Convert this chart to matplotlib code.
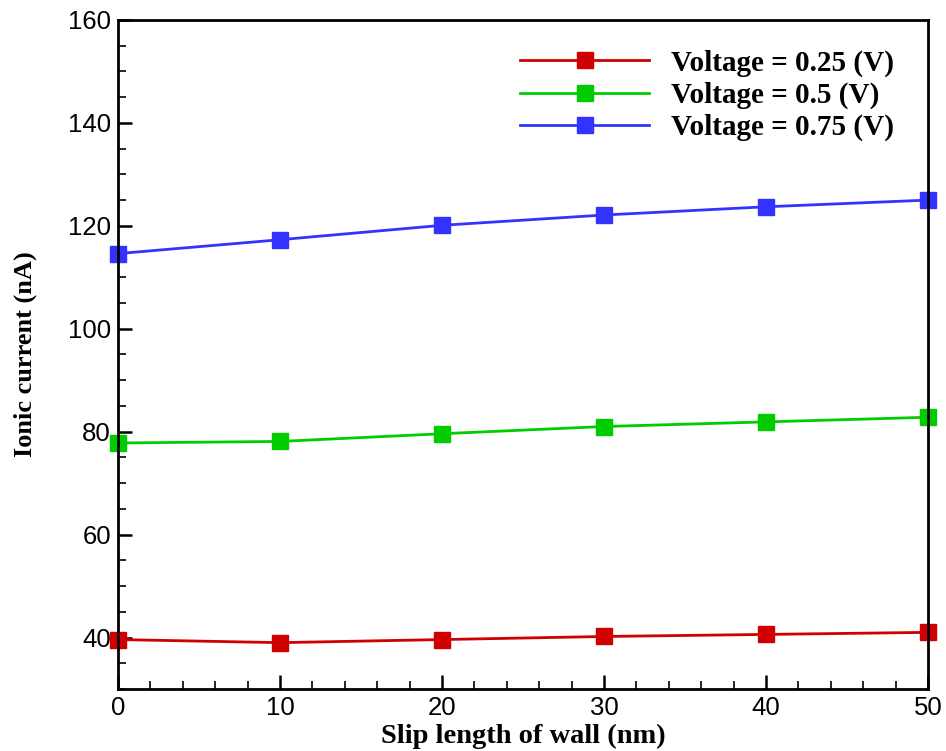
import matplotlib
matplotlib.use("Agg")
import matplotlib.pyplot as plt
from matplotlib.ticker import MultipleLocator

# Data
slip_length = [0, 10, 20, 30, 40, 50]
current_025 = [39.6, 39.0, 39.6, 40.2, 40.6, 41.0]
current_05 = [77.8, 78.1, 79.6, 81.0, 81.9, 82.8]
current_075 = [114.6, 117.3, 120.1, 122.1, 123.7, 125.0]
labels = ["Voltage = 0.25 (V)", "Voltage = 0.5 (V)", "Voltage = 0.75 (V)"]
colors = ["#d00000", "#00cc00", "#3333ff"]

fig = plt.figure(figsize=(9.46, 7.51), dpi=100)
ax = fig.add_axes([0.1247, 0.0826, 0.8563, 0.8908])

for y, lab, c in zip([current_025, current_05, current_075], labels, colors):
    ax.plot(slip_length, y, color=c, lw=2, marker="s", ms=12, label=lab, clip_on=False)

ax.set_xlim(0, 50)
ax.set_ylim(30, 160)
ax.xaxis.set_major_locator(MultipleLocator(10))
ax.xaxis.set_minor_locator(MultipleLocator(2))
ax.yaxis.set_major_locator(MultipleLocator(20))
ax.yaxis.set_minor_locator(MultipleLocator(5))
ax.set_yticks([40, 60, 80, 100, 120, 140, 160])

ax.tick_params(which="both", direction="in", top=False, right=False,
               labelsize=18.5, width=1.8, pad=5)
ax.tick_params(which="major", length=10)
ax.tick_params(which="minor", length=6, width=1.2)
for lbl in ax.get_xticklabels() + ax.get_yticklabels():
    lbl.set_fontfamily("Liberation Sans")
for s in ax.spines.values():
    s.set_linewidth(2)

ax.set_xlabel("Slip length of wall (nm)", fontfamily="Liberation Serif",
              fontweight="bold", fontsize=20.5, labelpad=2.5)
ax.set_ylabel("Ionic current (nA)", fontfamily="Liberation Serif",
              fontweight="bold", fontsize=19, labelpad=22)

ax.legend(loc="upper right", frameon=False, handlelength=4.4, handletextpad=0.75,
          labelspacing=0.17, bbox_to_anchor=(0.99, 0.995),
          prop={"family": "Liberation Serif", "weight": "bold", "size": 21})

fig.savefig("out.png", dpi=100)
